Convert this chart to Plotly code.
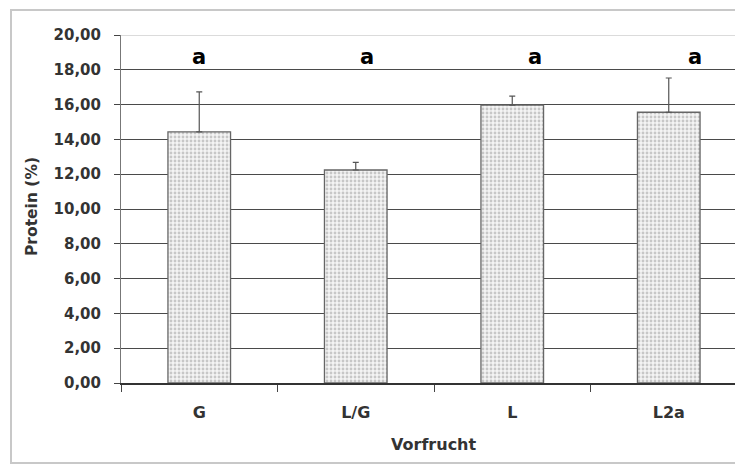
import plotly.graph_objects as go

categories = ["G", "L/G", "L", "L2a"]
protein = [14.43, 12.24, 15.97, 15.56]
err_plus = [2.30, 0.44, 0.52, 1.97]
sig_letters = ["a", "a", "a", "a"]
y_ticks = [0, 2, 4, 6, 8, 10, 12, 14, 16, 18, 20]

OFF = 8
W, H = 743 - OFF, 465 - OFF
L, R, T = 121 - OFF, 0, 35 - OFF
ph = 348
B = H - T - ph
pw = W - L - R
cat_px = 156.5


def px(sx):
    return (sx - 121) / pw


def py(sy):
    return (383 - sy) / ph


fig = go.Figure()
fig.add_trace(go.Bar(
    x=categories, y=protein, width=0.40,
    marker=dict(color="#f2f2f2",
                line=dict(color="#666666", width=1.3),
                pattern=dict(shape=".", size=4, solidity=0.4,
                             fgcolor="#9a9a9a", bgcolor="#f4f4f4")),
    error_y=dict(type="data", symmetric=False, array=err_plus,
                 arrayminus=[0]*len(err_plus), color="#555555",
                 thickness=1.2, width=3),
    showlegend=False,
))

font = "DejaVu Sans"
shifts = [0, 11, 23, 26]
for c, s, sh in zip(categories, sig_letters, shifts):
    fig.add_annotation(x=c, y=18.73, text="<b>%s</b>" % s, showarrow=False,
                       xshift=sh, font=dict(family=font, size=21, color="#000"),
                       xanchor="center", yanchor="middle")

fig.add_annotation(xref="paper", yref="paper", x=px(434), y=py(444),
                   text="<b>Vorfrucht</b>", showarrow=False,
                   font=dict(family=font, size=16, color="#333"),
                   xanchor="center", yanchor="middle")
fig.add_annotation(xref="paper", yref="paper", x=px(32), y=py(206),
                   text="<b>Protein (%)</b>", showarrow=False, textangle=-90,
                   font=dict(family=font, size=15.5, color="#333"),
                   xanchor="center", yanchor="middle")

bx0, bx1, by0, by1 = px(11), px(760), py(463), py(10)
fig.add_shape(type="path", xref="paper", yref="paper",
              path="M %f,%f L %f,%f L %f,%f L %f,%f" % (bx1, by1, bx0, by1, bx0, by0, bx1, by0),
              line=dict(color="#c8c8c8", width=2), fillcolor="rgba(0,0,0,0)",
              layer="below")
fig.add_shape(type="line", xref="paper", yref="y", x0=0, x1=1, y0=20, y1=20,
              line=dict(color="#cfcfcf", width=1.5), layer="above")

fig.update_layout(
    width=W, height=H,
    margin=dict(l=L, r=R, t=T, b=B, autoexpand=False),
    paper_bgcolor="white", plot_bgcolor="white",
    font=dict(family=font, color="#333"),
    bargap=0.6,
    xaxis=dict(type="category", range=[-0.5, -0.5 + pw / cat_px],
               showline=True, linecolor="#333", linewidth=1.5,
               ticks="outside", tickson="boundaries", ticklen=7,
               tickcolor="#444", tickwidth=1,
               tickfont=dict(family=font, size=16, color="#333", weight="bold"),
               ticklabelstandoff=14, showgrid=False, automargin=False),
    yaxis=dict(range=[0, 20], tickvals=y_ticks, tickformat=".2f",
               showline=True, linecolor="#777", linewidth=1,
               ticks="outside", ticklen=6, tickcolor="#444",
               showgrid=True, gridcolor="#4a4a4a", gridwidth=1.2,
               zeroline=False,
               tickfont=dict(family=font, size=15, color="#333", weight="bold"),
               ticklabelstandoff=10, automargin=False),
    separators=",.",
)

fig.write_html("out.html", config={"displayModeBar": False})
